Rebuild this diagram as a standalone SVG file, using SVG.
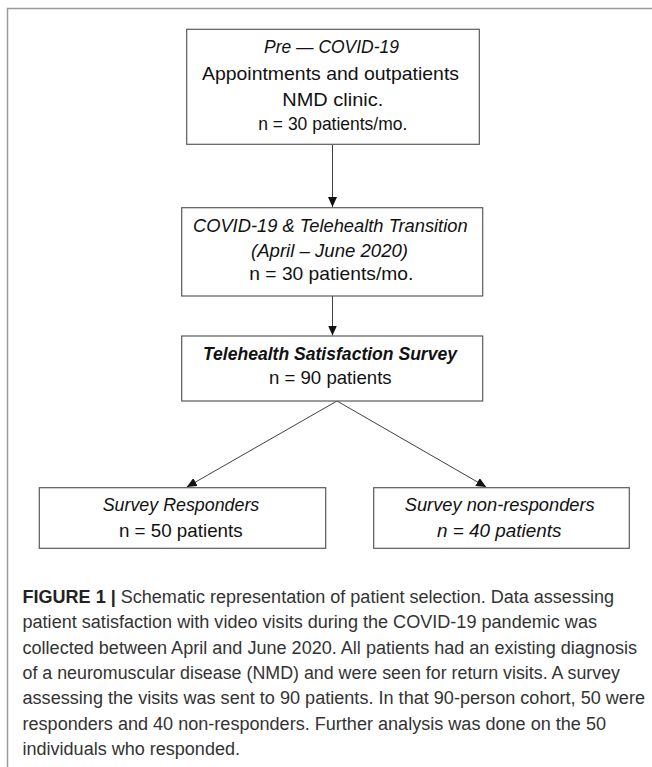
<svg xmlns="http://www.w3.org/2000/svg" width="652" height="767" viewBox="0 0 652 767">
<style>
  .box { fill: #ffffff; stroke: #5a5a5a; stroke-width: 1.2; }
  .t { font-family: "Liberation Sans", Arial, sans-serif; font-size: 19px; fill: #111111; text-anchor: middle; }
  .i { font-style: italic; }
  .bi { font-style: italic; font-weight: bold; }
  .conn { stroke: #404040; stroke-width: 1; fill: none; }
  .cap { font-family: "Liberation Sans", Arial, sans-serif; font-size: 18px; fill: #333333; }
  .frame { stroke: #9a9a9a; stroke-width: 1.5; fill: none; }
</style>
<defs>
  <marker id="ah" markerUnits="userSpaceOnUse" markerWidth="11" markerHeight="9" refX="10" refY="4.5" orient="auto">
    <path d="M0,0 L10,4.5 L0,9 z" fill="#111111"/>
  </marker>
</defs>
<rect width="652" height="767" fill="#ffffff"/>
<path class="frame" d="M7.5,767 L7.5,8.5 L652,8.5"/>

<g id="connectors">
  <line class="conn" x1="332.5" y1="144.5" x2="332.5" y2="207" marker-end="url(#ah)"/>
  <line class="conn" x1="332.5" y1="296" x2="332.5" y2="335.5" marker-end="url(#ah)"/>
  <line class="conn" x1="337" y1="401" x2="186.8" y2="487" marker-end="url(#ah)"/>
  <line class="conn" x1="337" y1="401" x2="486.2" y2="487" marker-end="url(#ah)"/>
</g>

<g id="node-pre-covid">
  <rect class="box" x="186.7" y="29.3" width="292.6" height="115"/>
  <text class="t i" x="331.5" y="53.3" textLength="135" lengthAdjust="spacingAndGlyphs">Pre — COVID-19</text>
  <text class="t" x="330.5" y="80" textLength="257" lengthAdjust="spacingAndGlyphs">Appointments and outpatients</text>
  <text class="t" x="332.8" y="106" textLength="101" lengthAdjust="spacingAndGlyphs">NMD clinic.</text>
  <text class="t" x="332.8" y="130" textLength="149" lengthAdjust="spacingAndGlyphs">n = 30 patients/mo.</text>
</g>

<g id="node-transition">
  <rect class="box" x="181.7" y="207.7" width="301" height="88.3"/>
  <text class="t i" x="330.3" y="231.7" textLength="274.7" lengthAdjust="spacingAndGlyphs">COVID-19 &amp; Telehealth Transition</text>
  <text class="t i" x="329.5" y="256.5" textLength="157" lengthAdjust="spacingAndGlyphs">(April – June 2020)</text>
  <text class="t" x="331.3" y="280" textLength="164" lengthAdjust="spacingAndGlyphs">n = 30 patients/mo.</text>
</g>

<g id="node-survey">
  <rect class="box" x="181.7" y="336" width="301" height="65"/>
  <text class="t bi" x="330" y="360" textLength="254" lengthAdjust="spacingAndGlyphs">Telehealth Satisfaction Survey</text>
  <text class="t" x="330.3" y="384.3" textLength="122.7" lengthAdjust="spacingAndGlyphs">n = 90 patients</text>
</g>

<g id="node-responders">
  <rect class="box" x="39.3" y="487.7" width="286.4" height="60.6"/>
  <text class="t i" x="181" y="510.7" textLength="156.6" lengthAdjust="spacingAndGlyphs">Survey Responders</text>
  <text class="t" x="180.8" y="536.7" textLength="123.7" lengthAdjust="spacingAndGlyphs">n = 50 patients</text>
</g>

<g id="node-nonresponders">
  <rect class="box" x="373.7" y="487.7" width="255.6" height="60.6"/>
  <text class="t i" x="499.7" y="510.7" textLength="190" lengthAdjust="spacingAndGlyphs">Survey non-responders</text>
  <text class="t i" x="499.2" y="536.7" textLength="124.3" lengthAdjust="spacingAndGlyphs">n = 40 patients</text>
</g>

<g id="caption">
  <text class="cap" x="22.5" y="603" textLength="591.5" lengthAdjust="spacingAndGlyphs"><tspan font-weight="bold" fill="#222222">FIGURE 1 |</tspan> Schematic representation of patient selection. Data assessing</text>
  <text class="cap" x="22.5" y="628.3" textLength="574.5" lengthAdjust="spacingAndGlyphs">patient satisfaction with video visits during the COVID-19 pandemic was</text>
  <text class="cap" x="22.5" y="653.6" textLength="614.5" lengthAdjust="spacingAndGlyphs">collected between April and June 2020. All patients had an existing diagnosis</text>
  <text class="cap" x="22.5" y="679" textLength="597.5" lengthAdjust="spacingAndGlyphs">of a neuromuscular disease (NMD) and were seen for return visits. A survey</text>
  <text class="cap" x="22.5" y="704.3" textLength="622.5" lengthAdjust="spacingAndGlyphs">assessing the visits was sent to 90 patients. In that 90-person cohort, 50 were</text>
  <text class="cap" x="22.5" y="729.6" textLength="583.5" lengthAdjust="spacingAndGlyphs">responders and 40 non-responders. Further analysis was done on the 50</text>
  <text class="cap" x="22.5" y="755" textLength="217.5" lengthAdjust="spacingAndGlyphs">individuals who responded.</text>
</g>
</svg>
